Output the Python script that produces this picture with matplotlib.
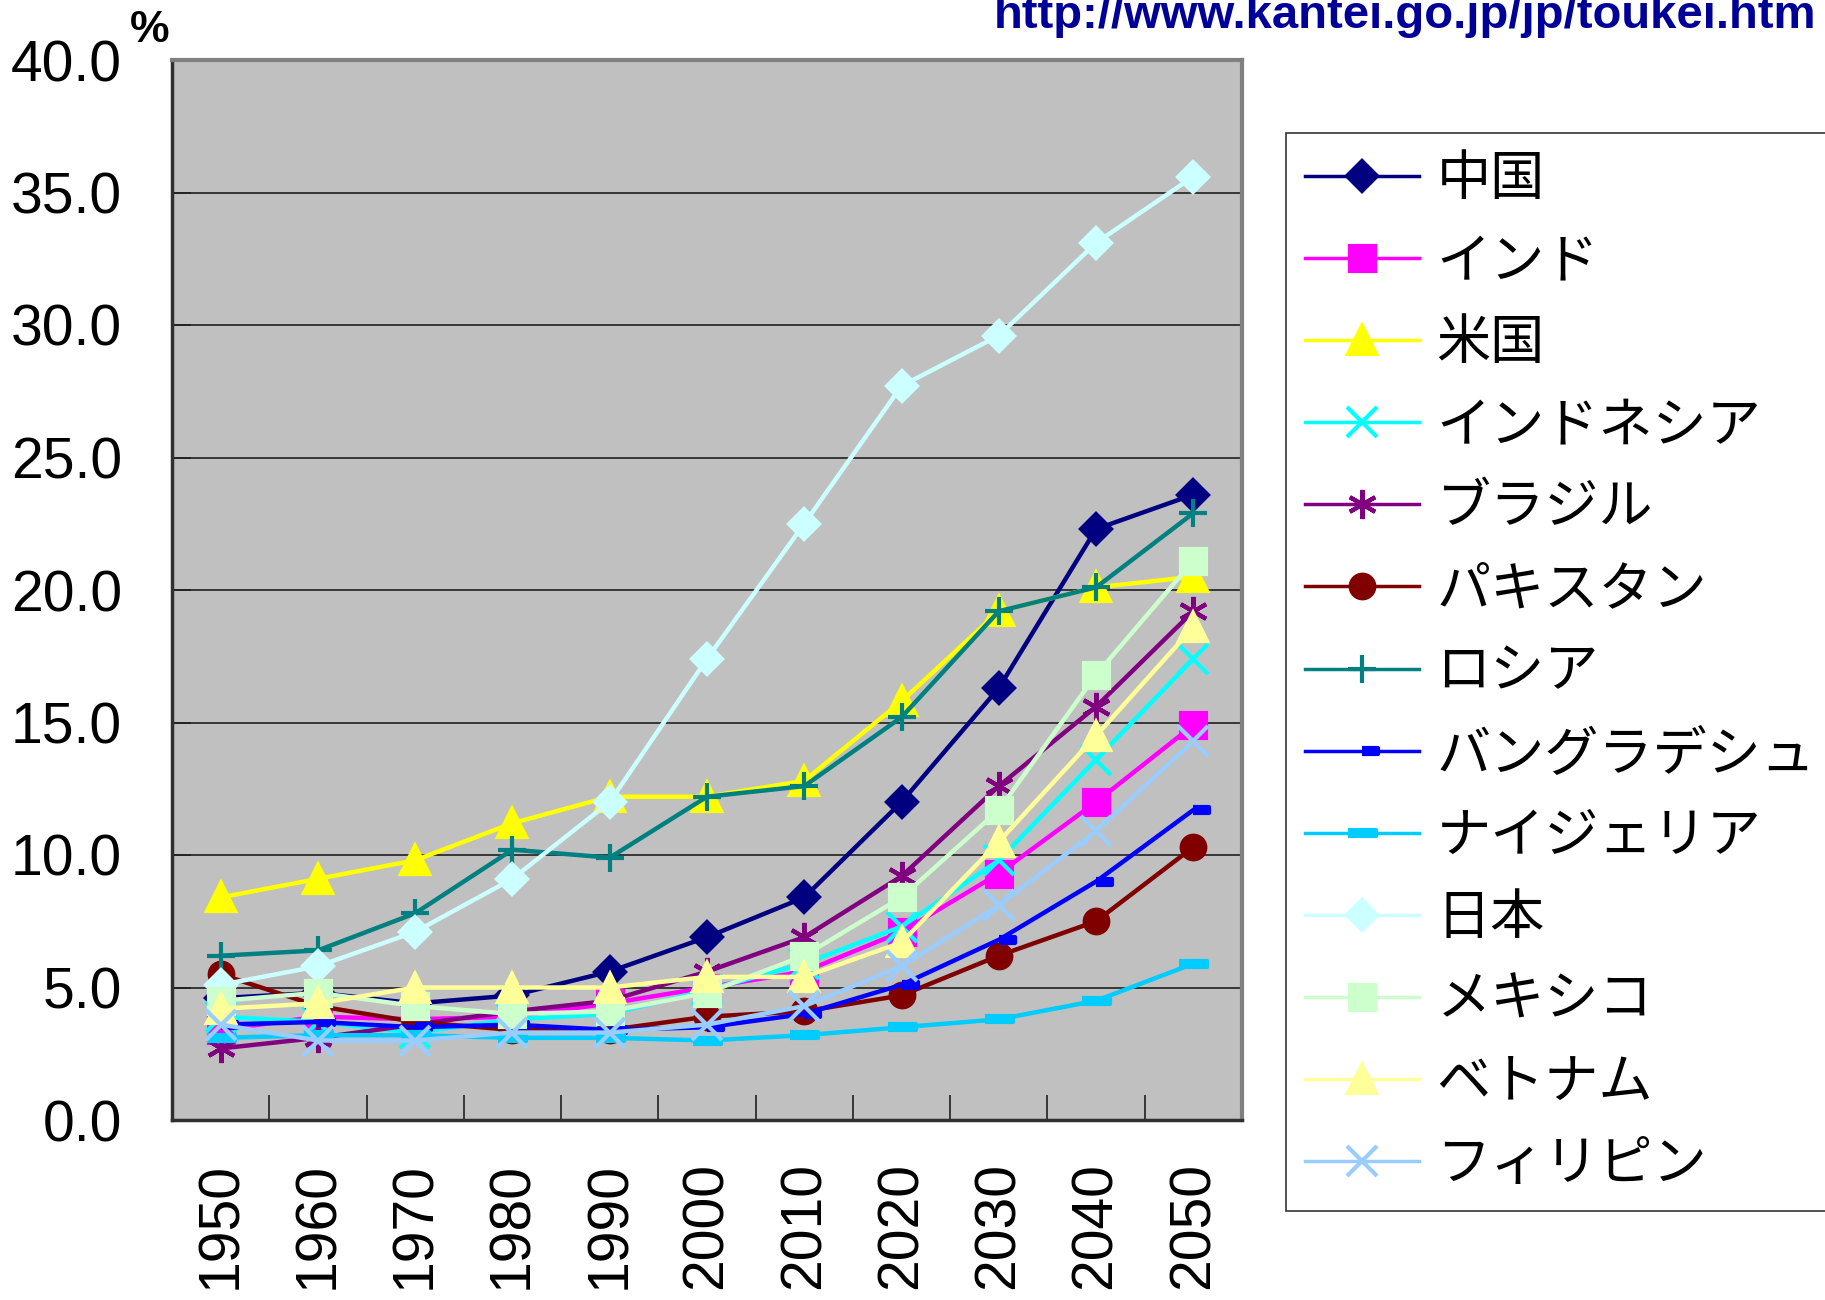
import matplotlib
matplotlib.use("Agg")
import matplotlib.pyplot as plt
import numpy as np
from matplotlib.lines import Line2D

years = ["1950", "1960", "1970", "1980", "1990", "2000", "2010", "2020", "2030", "2040", "2050"]
names = ["中国", "インド", "米国", "インドネシア", "ブラジル", "パキスタン", "ロシア",
         "バングラデシュ", "ナイジェリア", "日本", "メキシコ", "ベトナム", "フィリピン"]

china = [4.6, 4.8, 4.4, 4.7, 5.6, 6.9, 8.4, 12.0, 16.3, 22.3, 23.6]
india = [3.4, 3.9, 3.8, 3.9, 4.4, 5.0, 5.6, 7.1, 9.3, 12.0, 14.9]
usa = [8.4, 9.1, 9.8, 11.2, 12.2, 12.2, 12.8, 15.8, 19.2, 20.1, 20.5]
indonesia = [3.9, 3.7, 3.3, 3.8, 4.0, 4.9, 5.9, 7.3, 9.8, 13.6, 17.4]
brazil = [2.7, 3.1, 3.6, 4.1, 4.5, 5.6, 6.9, 9.2, 12.6, 15.6, 19.2]
pakistan = [5.5, 4.3, 3.7, 3.4, 3.4, 3.9, 4.1, 4.7, 6.2, 7.5, 10.3]
russia = [6.2, 6.4, 7.8, 10.2, 9.9, 12.2, 12.6, 15.2, 19.2, 20.1, 22.9]
bangladesh = [3.6, 3.7, 3.5, 3.6, 3.4, 3.5, 4.0, 5.1, 6.8, 9.0, 11.7]
nigeria = [3.1, 3.2, 3.2, 3.1, 3.1, 3.0, 3.2, 3.5, 3.8, 4.5, 5.9]
japan = [5.1, 5.8, 7.1, 9.1, 12.0, 17.4, 22.5, 27.7, 29.6, 33.1, 35.6]
mexico = [4.5, 4.8, 4.3, 4.0, 4.1, 4.8, 6.2, 8.4, 11.7, 16.8, 21.1]
vietnam = [4.2, 4.4, 5.0, 5.0, 5.0, 5.4, 5.4, 6.7, 10.5, 14.5, 18.6]
philippines = [3.6, 3.0, 3.0, 3.3, 3.3, 3.6, 4.3, 5.8, 8.1, 10.9, 14.3]

series = [china, india, usa, indonesia, brazil, pakistan, russia,
          bangladesh, nigeria, japan, mexico, vietnam, philippines]

colors = ["#000080", "#FF00FF", "#FFFF00", "#00FFFF", "#800080", "#800000", "#008080",
          "#0000FF", "#00CCFF", "#CCFFFF", "#CCFFCC", "#FFFF99", "#99CCFF"]

short_dash = [(0, -0.2), (1, -0.2), (1, 0.2), (0, 0.2)]
long_dash = [(-1, -0.25), (1, -0.25), (1, 0.25), (-1, 0.25)]
markers = ["D", "s", "^", "x", (6, 2, 0), "o", "+", short_dash, long_dash, "D", "s", "^", "x"]
msizes = [15, 18, 20, 21, 21, 17, 20, 23, 20, 15, 18, 20, 21]

plt.rcParams['font.family'] = ['Liberation Sans', 'Noto Sans CJK JP', 'DejaVu Sans']

fig = plt.figure(figsize=(18.25, 13), dpi=100)
ax = fig.add_axes([172/1825, 1-1120/1300, (1242-172)/1825, (1120-60)/1300])
ax.set_facecolor("#C0C0C0")

x = np.arange(len(years))
handles = []
for vals, c, m, ms, nm in zip(series, colors, markers, msizes, names):
    ax.plot(x, vals, color=c, lw=3.2, marker=m, ms=ms, mfc=c, mec=c, mew=3, zorder=3)
    handles.append(Line2D([0], [0], color=c, lw=2.5, marker=m, ms=ms, mfc=c, mec=c, mew=3, label=nm))

ax.set_xlim(-0.5, len(years) - 0.5)
ax.set_ylim(0, 40)
ax.set_yticks(np.arange(0, 41, 5))
ax.set_yticklabels([f"{v:.1f}" for v in np.arange(0, 41, 5)], fontsize=41)
ax.yaxis.grid(True, color="#202020", lw=1.2, zorder=1)
ax.set_axisbelow(True)
ax.tick_params(axis='y', direction='in', length=14, width=1.2, color="#202020", pad=36)

ax.set_xticks(np.arange(-0.5, len(years), 1.0))
ax.set_xticklabels([])
ax.tick_params(axis='x', which='major', direction='in', length=18, width=1.2, color="#202020")
ax.set_xticks(x, minor=True)
ax.set_xticklabels(years, minor=True, rotation=90, fontsize=41, va='top')
ax.tick_params(axis='x', which='minor', length=0, pad=30)

for s in ['top', 'right']:
    ax.spines[s].set_color("#808080")
    ax.spines[s].set_linewidth(3)
for s in ['left', 'bottom']:
    ax.spines[s].set_color("#303030")
    ax.spines[s].set_linewidth(2.5)

fig.text(130/1825, 1-42/1300, "%", fontsize=32, fontweight='bold', ha='left', va='baseline')
fig.text(994/1825, 1-28/1300, "http://www.kantei.go.jp/jp/toukei.htm", fontsize=34,
         fontweight='bold', color="#000099", ha='left', va='baseline')

leg = fig.legend(handles=handles, loc='upper left', bbox_to_anchor=(1286/1825, 1-133/1300),
                 prop={'family': ['Noto Sans CJK JP', 'DejaVu Sans'], 'size': 39},
                 frameon=True, fancybox=False, borderpad=0.35, labelspacing=0.5,
                 handlelength=2.1, handletextpad=0.33, borderaxespad=0)
leg.get_frame().set_edgecolor("#000000")
leg.get_frame().set_linewidth(1.2)

fig.savefig("out.png", dpi=100, facecolor="white")
